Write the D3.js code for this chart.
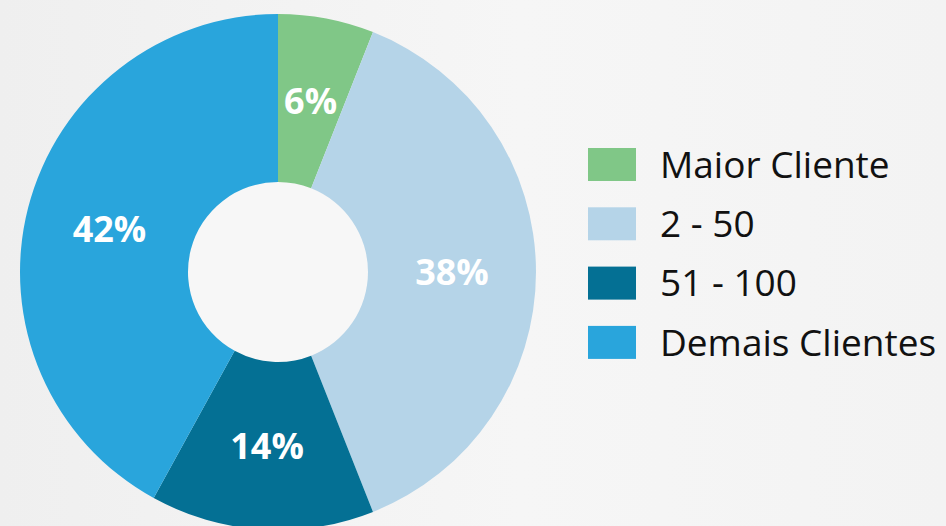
<!DOCTYPE html>
<html>
<head>
<meta charset="utf-8">
<script src="https://cdn.jsdelivr.net/npm/d3@7"></script>
<style>
html,body{margin:0;padding:0;background:#f4f4f4;}
svg{display:block;}
</style>
</head>
<body>
<svg id="chart" width="946" height="526"></svg>
<script>
const categories = ["Maior Cliente", "2 - 50", "51 - 100", "Demais Clientes"];
const values = [6, 38, 14, 42];
const labels = ["6%", "38%", "14%", "42%"];
const colors = ["#80c787", "#b5d4e8", "#047094", "#29a5dc"];

const W = 946, H = 526;
const svg = d3.select("#chart");

// subtle background
const defs = svg.append("defs");
const g1 = defs.append("linearGradient").attr("id","bg").attr("x1","0").attr("x2","1").attr("y1","0").attr("y2","0");
g1.append("stop").attr("offset","0").attr("stop-color","#efefef");
g1.append("stop").attr("offset","0.55").attr("stop-color","#f6f6f6");
g1.append("stop").attr("offset","1").attr("stop-color","#f3f3f3");
svg.append("rect").attr("width",W).attr("height",H).attr("fill","url(#bg)");

const cx = 278, cy = 272, rOuter = 258, rInner = 90;
const pie = d3.pie().sort(null).value(d => d)(values);
const arc = d3.arc().innerRadius(rInner).outerRadius(rOuter);

const g = svg.append("g").attr("transform", `translate(${cx},${cy})`);
g.append("circle").attr("r", rInner).attr("fill", "#f7f7f7");
g.selectAll("path").data(pie).join("path")
  .attr("d", arc)
  .attr("fill", (d,i) => colors[i]);

g.selectAll("text.lbl").data(pie).join("text")
  .attr("class","lbl")
  .attr("transform", d => `translate(${arc.centroid(d)})`)
  .attr("text-anchor","middle")
  .attr("dy","0.36em")
  .attr("fill","#ffffff")
  .attr("font-family","'Open Sans', sans-serif")
  .attr("font-weight","700")
  .attr("font-size",36)
  .text((d,i) => labels[i]);

const legend = svg.append("g").attr("transform","translate(588,148)");
const rows = legend.selectAll("g").data(categories).join("g")
  .attr("transform", (d,i) => `translate(0,${i*59.3})`);
rows.append("rect").attr("width",48).attr("height",33).attr("fill",(d,i)=>colors[i]);
rows.append("text")
  .attr("x",72).attr("y",16.5).attr("dy","0.36em")
  .attr("fill","#111")
  .attr("font-family","'Open Sans', sans-serif")
  .attr("font-size",37)
  .text(d => d);
</script>
</body>
</html>
